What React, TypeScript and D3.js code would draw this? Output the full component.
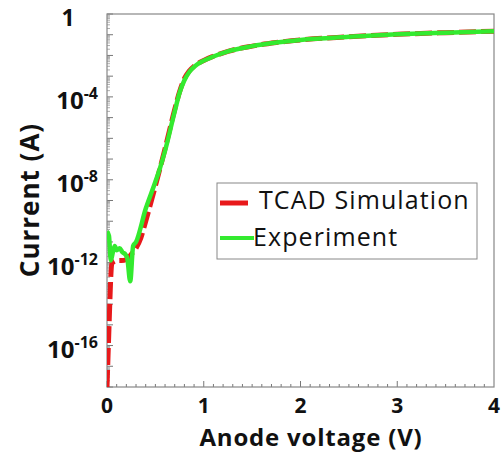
import React from 'react';
import * as d3 from 'd3';

const width = 502;
const height = 458;
const margin = { top: 14, right: 8, bottom: 71, left: 107 };

// TCAD simulation (red dashed)
const simVoltage = [0, 0.01, 0.02, 0.03, 0.04, 0.05, 0.07, 0.1, 0.15, 0.2, 0.25, 0.3, 0.35, 0.4, 0.5, 0.6, 0.7, 0.75, 0.8, 0.85, 0.9, 1.0, 1.1, 1.25, 1.5, 1.75, 2.0, 2.5, 3.0, 3.5, 4.0];
const simLogCurrent = [-18, -16.6, -15.2, -13.8, -12.6, -12.05, -11.95, -11.9, -11.9, -11.85, -11.6, -11.3, -10.8, -10.0, -8.3, -6.5, -4.6, -3.75, -3.12, -2.75, -2.52, -2.24, -2.04, -1.8, -1.55, -1.38, -1.25, -1.1, -0.98, -0.9, -0.83];

// Experiment (green)
const expVoltage = [0, 0.02, 0.04, 0.06, 0.08, 0.1, 0.13, 0.16, 0.19, 0.21, 0.24, 0.27, 0.3, 0.4, 0.5, 0.55, 0.6, 0.7, 0.75, 0.8, 0.85, 0.9, 1.0, 1.1, 1.25, 1.5, 1.75, 2.0, 2.5, 3.0, 3.5, 4.0];
const expLogCurrent = [-10.5, -10.7, -11.9, -11.5, -11.2, -11.4, -11.3, -11.5, -11.6, -11.8, -12.9, -11.2, -11.0, -9.4, -8.1, -7.4, -6.6, -4.7, -3.8, -3.2, -2.8, -2.55, -2.25, -2.05, -1.8, -1.55, -1.38, -1.25, -1.1, -0.98, -0.9, -0.83];

const xTicks = [0, 1, 2, 3, 4];
const yTickExponents = [0, -4, -8, -12, -16];

const font = '"Open Sans", sans-serif';

const App = () => {
  const x = d3.scaleLinear().domain([0, 4]).range([margin.left, width - margin.right]);
  const y = d3.scaleLog().domain([1e-18, 1]).range([height - margin.bottom, margin.top]);

  const simData = simVoltage.map((v, i) => [v, Math.pow(10, simLogCurrent[i])]);
  const expData = expVoltage.map((v, i) => [v, Math.pow(10, expLogCurrent[i])]);

  const line = d3.line<number[]>()
    .x(d => x(d[0]))
    .y(d => y(d[1]))
    .curve(d3.curveMonotoneX);

  const x0 = margin.left;
  const x1 = width - margin.right;
  const y0 = height - margin.bottom;
  const y1 = margin.top;

  // minor ticks
  const xMinor = d3.range(0, 40).map(i => i / 10);
  const yMinor: number[] = [];
  for (let e = -18; e < 0; e++) {
    for (let m = 2; m < 10; m++) yMinor.push(m * Math.pow(10, e));
  }
  const yMajor = d3.range(-18, 1).map(e => Math.pow(10, e));

  return (
    <svg width={width} height={height} style={{ position: 'absolute', left: 0, top: 0 }}>
      <rect x={0} y={0} width={width} height={height} fill="#fff" />
      <defs>
        <clipPath id="plot-clip">
          <rect x={x0} y={y1} width={x1 - x0} height={y0 - y1} />
        </clipPath>
      </defs>

      {/* ticks */}
      {xMinor.map((t, i) => (
        <line key={'xm' + i} x1={x(t)} x2={x(t)} y1={y0} y2={y0 - (i % 10 === 0 ? 6 : 3)} stroke="#777" strokeWidth={1} />
      ))}
      {yMajor.map((t, i) => (
        <line key={'ya' + i} x1={x0} x2={x0 + 6} y1={y(t)} y2={y(t)} stroke="#777" strokeWidth={1} />
      ))}
      {yMinor.map((t, i) => (
        <line key={'yi' + i} x1={x0} x2={x0 + 3} y1={y(t)} y2={y(t)} stroke="#999" strokeWidth={0.8} />
      ))}

      <rect x={x0} y={y1} width={x1 - x0} height={y0 - y1} fill="none" stroke="#888" strokeWidth={1.2} />

      <g clipPath="url(#plot-clip)">
        <path d={line(simData) || ''} fill="none" stroke="#e8191b" strokeWidth={5} strokeDasharray="17 5" />
        <path d={line(expData) || ''} fill="none" stroke="#33ea2f" strokeWidth={4.5} strokeLinejoin="round" />
      </g>

      {/* x tick labels */}
      {xTicks.map(t => (
        <text key={'xt' + t} x={x(t)} y={413} textAnchor="middle" fontFamily={font} fontWeight="bold" fontSize={21} fill="#111">{t}</text>
      ))}

      {/* y tick labels */}
      {yTickExponents.map(e => (
        e === 0 ? (
          <text key={'yt' + e} x={68} y={y(1) + 12} textAnchor="middle" fontFamily={font} fontWeight="bold" fontSize={23} fill="#111">1</text>
        ) : (
          <text key={'yt' + e} x={98} y={y(Math.pow(10, e)) + 12} textAnchor="end" fontFamily={font} fontWeight="bold" fontSize={24} fill="#111">
            10<tspan dy={-10} fontSize={16}>{e}</tspan>
          </text>
        )
      ))}

      {/* axis titles */}
      <text x={311} y={446} textAnchor="middle" fontFamily={font} fontWeight="bold" fontSize={24} letterSpacing={0.8} fill="#111">Anode voltage (V)</text>
      <text transform={`translate(39,200) rotate(-90)`} textAnchor="middle" fontFamily={font} fontWeight="bold" fontSize={26} letterSpacing={1} fill="#111">Current (A)</text>

      {/* legend */}
      <rect x={217} y={183} width={260} height={76} fill="#fff" stroke="#888" strokeWidth={1} />
      <line x1={220} x2={248} y1={203} y2={203} stroke="#e8191b" strokeWidth={5} />
      <line x1={220} x2={254} y1={238} y2={238} stroke="#33ea2f" strokeWidth={4} />
      <text x={259} y={209} fontFamily={font} fontSize={25} letterSpacing={1.1} fill="#111">TCAD Simulation</text>
      <text x={253} y={246} fontFamily={font} fontSize={25} letterSpacing={1.1} fill="#111">Experiment</text>
    </svg>
  );
};

export default App;
